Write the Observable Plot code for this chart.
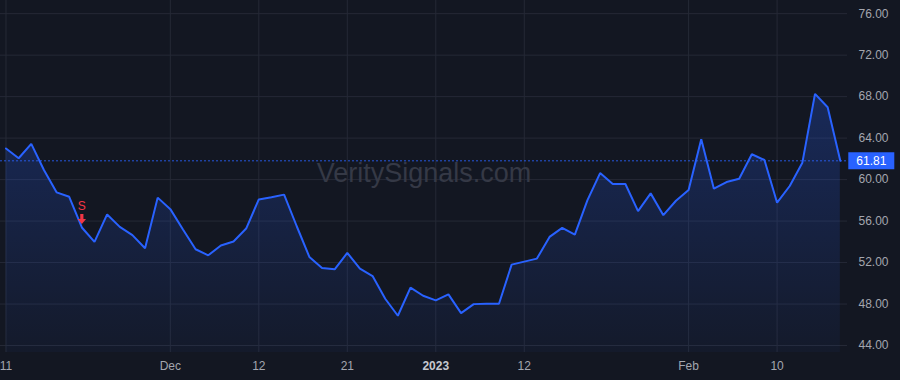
<!DOCTYPE html>
<html><head><meta charset="utf-8">
<script src="https://cdn.jsdelivr.net/npm/d3@7"></script>
<script src="https://cdn.jsdelivr.net/npm/@observablehq/plot@0.6"></script>
<style>
html,body{margin:0;padding:0;background:#131722;}
#chart{width:900px;height:380px;overflow:hidden;}
</style></head><body><div id="chart"></div>
<script>
// Trading days shown on the chart
const dates = [
  "2022-11-11","2022-11-14","2022-11-15","2022-11-16","2022-11-17","2022-11-18","2022-11-21","2022-11-22","2022-11-23","2022-11-25","2022-11-28","2022-11-29","2022-11-30",
  "2022-12-01","2022-12-02","2022-12-05","2022-12-06","2022-12-07","2022-12-08","2022-12-09","2022-12-12","2022-12-13","2022-12-14","2022-12-15","2022-12-16","2022-12-19","2022-12-20","2022-12-21","2022-12-22","2022-12-23","2022-12-27","2022-12-28","2022-12-29","2022-12-30",
  "2023-01-03","2023-01-04","2023-01-05","2023-01-06","2023-01-09","2023-01-10","2023-01-11","2023-01-12","2023-01-13","2023-01-17","2023-01-18","2023-01-19","2023-01-20","2023-01-23","2023-01-24","2023-01-25","2023-01-26","2023-01-27","2023-01-30","2023-01-31",
  "2023-02-01","2023-02-02","2023-02-03","2023-02-06","2023-02-07","2023-02-08","2023-02-09","2023-02-10","2023-02-13","2023-02-14","2023-02-15","2023-02-16","2023-02-17"
];
const closes = [
  63.00,62.06,63.44,60.92,58.77,58.34,55.38,53.99,56.64,55.44,54.64,53.38,58.26,
  57.15,55.18,53.28,52.70,53.64,54.03,55.28,58.09,58.30,58.55,55.50,52.54,51.48,51.35,52.93,51.42,50.70,48.51,46.87,49.58,48.80,
  48.35,48.93,47.12,47.99,48.02,48.03,51.80,52.09,52.38,54.47,55.34,54.69,58.02,60.63,59.57,59.57,56.96,58.67,56.57,57.96,58.99,
  63.89,59.12,59.76,60.08,62.44,61.89,57.77,59.38,61.63,68.27,66.98,61.81
];
const tickDates  = ["2022-11-11","2022-12-01","2022-12-12","2022-12-21","2023-01-03","2023-01-12","2023-02-01","2023-02-10"];
const tickLabels = ["11","Dec","12","21","2023","12","Feb","10"];
const yTicks = [44,48,52,56,60,64,68,72,76];
const signalDates  = ["2022-11-21"];
const signalLabels = ["S"];
const lastPrice = 61.81;
const watermark = "VeritySignals.com";

const rows = dates.map((d, i) => ({i, date: d, close: closes[i]}));
const tickIdx = tickDates.map(d => dates.indexOf(d));
const labelOf = new Map(tickIdx.map((t, k) => [t, tickLabels[k]]));
const signals = signalDates.map((d, k) => ({i: dates.indexOf(d), close: closes[dates.indexOf(d)], label: signalLabels[k]}));
const lastRow = [{i: rows.length - 1, close: lastPrice, label: lastPrice.toFixed(2)}];

const yLo = 43.325, yHi = 77.27;
const blue = "#2962ff", red = "#f23645", gridC = "#252936";

const arrowDown = {draw(ctx) {
  ctx.moveTo(-1.6, -5); ctx.lineTo(1.6, -5); ctx.lineTo(1.6, 0); ctx.lineTo(4.2, 0);
  ctx.lineTo(0, 5); ctx.lineTo(-4.2, 0); ctx.lineTo(-1.6, 0); ctx.closePath();
}};
const priceBox = {draw(ctx) {
  ctx.moveTo(-23, -8.5); ctx.lineTo(23, -8.5); ctx.lineTo(23, 8.5); ctx.lineTo(-23, 8.5); ctx.closePath();
}};

const defs = () => {
  const ns = "http://www.w3.org/2000/svg";
  const d = document.createElementNS(ns, "defs");
  const g = document.createElementNS(ns, "linearGradient");
  g.setAttribute("id", "areaGrad");
  g.setAttribute("x1", "0"); g.setAttribute("y1", "0"); g.setAttribute("x2", "0"); g.setAttribute("y2", "1");
  [["0", 0.25], ["1", 0.04]].forEach(([o, a]) => {
    const s = document.createElementNS(ns, "stop");
    s.setAttribute("offset", o); s.setAttribute("stop-color", blue); s.setAttribute("stop-opacity", a);
    g.appendChild(s);
  });
  d.appendChild(g);
  return d;
};

const chart = Plot.plot({
  width: 900, height: 380,
  marginLeft: 0, marginRight: 53, marginTop: 0, marginBottom: 28,
  style: {background: "#131722", color: "#a3a6af", fontFamily: "'Liberation Sans', Arial, sans-serif", fontSize: "12px"},
  x: {type: "linear", domain: [-0.435, 66.57], label: null},
  y: {domain: [yLo, yHi], label: null},
  marks: [
    defs,
    Plot.gridY(yTicks, {stroke: gridC, strokeOpacity: 1}),
    Plot.gridX(tickIdx, {stroke: gridC, strokeOpacity: 1}),
    Plot.text([watermark], {frameAnchor: "middle", text: d => d, fontSize: 27, fill: "#353946", dy: -3}),
    Plot.areaY(rows, {x: "i", y1: () => yLo, y2: "close", fill: "url(#areaGrad)"}),
    Plot.ruleY([lastPrice], {stroke: blue, strokeWidth: 1, strokeDasharray: "2,2", strokeOpacity: 0.85}),
    Plot.lineY(rows, {x: "i", y: "close", stroke: blue, strokeWidth: 2, strokeLinejoin: "miter"}),
    Plot.text(signals, {x: "i", y: "close", text: "label", fill: red, fontSize: 12, dy: -21}),
    Plot.dot(signals, {x: "i", y: "close", symbol: arrowDown, fill: red, stroke: "none", r: 5, dy: -8.5}),
    Plot.axisY(yTicks, {anchor: "right", label: null, tickSize: 0, tickPadding: 11, tickFormat: d => d.toFixed(2), fontSize: 12}),
    Plot.axisX(tickIdx, {anchor: "bottom", label: null, tickSize: 0, tickPadding: 9, tickFormat: d => labelOf.get(d), fontSize: 12}),
    Plot.dot(lastRow, {x: "i", y: "close", symbol: priceBox, fill: blue, stroke: "none", r: 5, dx: 31}),
    Plot.text(lastRow, {x: "i", y: "close", text: "label", fill: "#ffffff", fontSize: 12, dx: 31})
  ]
});
chart.querySelectorAll("text").forEach(t => {
  if (t.textContent === "2023") { t.setAttribute("font-weight", "bold"); t.setAttribute("fill", "#c5c8d0"); }
});
document.getElementById("chart").appendChild(chart);
</script></body></html>
